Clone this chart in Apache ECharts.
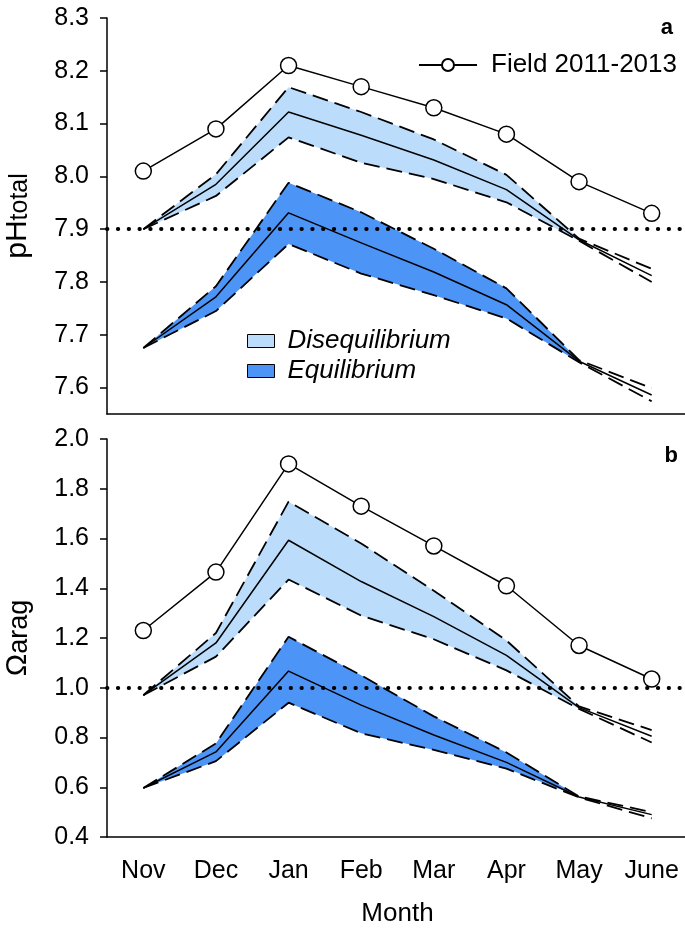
<!DOCTYPE html>
<html>
<head>
<meta charset="utf-8">
<script src="https://cdn.jsdelivr.net/npm/echarts@6/dist/echarts.min.js"></script>
<style>html,body{margin:0;padding:0;background:#fff}#c{width:685px;height:928px}</style>
</head>
<body>
<div id="c"></div>
<script>
const months = ['Nov','Dec','Jan','Feb','Mar','Apr','May','June'];
// number of months (from Nov) over which the model ranges are shaded
const shadedMonths = 7;

// Panel a: pH total
const phField    = [8.01, 8.09, 8.21, 8.17, 8.13, 8.08, 7.99, 7.93];
const phDisUpper = [7.90, 8.004, 8.169, 8.122, 8.070, 8.003, 7.882, 7.825];
const phDisMean  = [7.90, 7.985, 8.122, 8.078, 8.031, 7.975, 7.880, 7.812];
const phDisLower = [7.90, 7.963, 8.074, 8.026, 7.995, 7.951, 7.878, 7.800];
const phEqUpper  = [7.675, 7.792, 7.988, 7.932, 7.863, 7.788, 7.652, 7.599];
const phEqMean   = [7.675, 7.772, 7.931, 7.874, 7.819, 7.757, 7.650, 7.586];
const phEqLower  = [7.675, 7.745, 7.872, 7.816, 7.775, 7.731, 7.648, 7.574];
const phTicks = [7.6, 7.7, 7.8, 7.9, 8.0, 8.1, 8.2, 8.3];

// Panel b: Omega aragonite
const omField    = [1.23, 1.465, 1.90, 1.73, 1.57, 1.41, 1.17, 1.035];
const omDisUpper = [0.97, 1.22, 1.748, 1.58, 1.39, 1.19, 0.925, 0.83];
const omDisMean  = [0.97, 1.18, 1.593, 1.427, 1.286, 1.13, 0.92, 0.805];
const omDisLower = [0.97, 1.125, 1.435, 1.29, 1.195, 1.07, 0.915, 0.78];
const omEqUpper  = [0.597, 0.776, 1.205, 1.05, 0.885, 0.74, 0.563, 0.50];
const omEqMean   = [0.597, 0.742, 1.067, 0.93, 0.81, 0.70, 0.561, 0.49];
const omEqLower  = [0.597, 0.705, 0.94, 0.817, 0.75, 0.675, 0.559, 0.475];

const phRef = 7.9, omRef = 1.0;

const FONT = "'Liberation Sans', Arial, sans-serif";
const LIGHT = '#BBDDFB', DARK = '#4D94F7';

function diff(u, l) { return u.map((v, i) => i < shadedMonths ? +(v - l[i]).toFixed(4) : null); }

function panelSeries(k, field, dU, dM, dL, eU, eM, eL, ref) {
  const base = {type: 'line', xAxisIndex: k, yAxisIndex: k, symbol: 'none', silent: true, animation: false};
  const dash = {color: '#000', width: 1.8, type: [16, 7]};
  const solid = {color: '#000', width: 1.5};
  return [
    Object.assign({}, base, {name: 'disBase' + k, stack: 'dis' + k, data: dL, lineStyle: {opacity: 0}, z: 1}),
    Object.assign({}, base, {name: 'Disequilibrium', stack: 'dis' + k, data: diff(dU, dL), lineStyle: {opacity: 0}, areaStyle: {color: LIGHT, opacity: 1}, itemStyle: {color: LIGHT}, z: 1}),
    Object.assign({}, base, {name: 'eqBase' + k, stack: 'eq' + k, data: eL, lineStyle: {opacity: 0}, z: 1}),
    Object.assign({}, base, {name: 'Equilibrium', stack: 'eq' + k, data: diff(eU, eL), lineStyle: {opacity: 0}, areaStyle: {color: DARK, opacity: 1}, itemStyle: {color: DARK}, z: 1}),
    Object.assign({}, base, {name: 'dU' + k, data: dU, lineStyle: dash, z: 3}),
    Object.assign({}, base, {name: 'dM' + k, data: dM, lineStyle: solid, z: 3}),
    Object.assign({}, base, {name: 'dL' + k, data: dL, lineStyle: dash, z: 3}),
    Object.assign({}, base, {name: 'eU' + k, data: eU, lineStyle: dash, z: 3}),
    Object.assign({}, base, {name: 'eM' + k, data: eM, lineStyle: solid, z: 3}),
    Object.assign({}, base, {name: 'eL' + k, data: eL, lineStyle: dash, z: 3}),
    {
      type: 'line', name: 'Field 2011-2013', xAxisIndex: k, yAxisIndex: k, animation: false,
      data: field, symbol: 'circle', symbolSize: 16,
      lineStyle: {color: '#000', width: 1.5},
      itemStyle: {color: '#fff', borderColor: '#000', borderWidth: 1.5},
      z: 5,
      markLine: {
        silent: true, symbol: 'none', animation: false,
        label: {show: false},
        lineStyle: {color: '#000', width: 3.8, type: [0.5, 10.3], cap: 'round'},
        data: [{yAxis: ref}]
      }
    }
  ];
}

const xAxisCommon = {
  type: 'category', data: months, boundaryGap: true,
  axisLine: {lineStyle: {color: '#000', width: 1.5}},
  axisTick: {alignWithLabel: true, length: 8, lineStyle: {color: '#000', width: 1.5}},
  splitLine: {show: false}
};

const yAxisCommon = {
  type: 'value',
  axisLine: {show: true, lineStyle: {color: '#000', width: 1.5}},
  axisTick: {show: true, length: 7, lineStyle: {color: '#000', width: 1.5}},
  splitLine: {show: false},
  nameLocation: 'middle', nameRotate: 90
};

function nameRich(big, small) {
  return {
    m: {fontSize: big, fontFamily: FONT, color: '#000', verticalAlign: 'bottom', lineHeight: 34},
    s: {fontSize: small, fontFamily: FONT, color: '#000', verticalAlign: 'bottom', lineHeight: 21}
  };
}

const option = {
  backgroundColor: '#fff',
  animation: false,
  textStyle: {fontFamily: FONT},
  grid: [
    {left: 107, top: 18, width: 581, height: 396, outerBoundsMode: 'none', containLabel: false},
    {left: 107, top: 439, width: 581, height: 398, outerBoundsMode: 'none', containLabel: false}
  ],
  xAxis: [
    Object.assign({}, xAxisCommon, {gridIndex: 0, axisLabel: {show: false}}),
    Object.assign({}, xAxisCommon, {gridIndex: 1,
      axisLabel: {color: '#000', fontSize: 25, fontFamily: FONT, margin: 22},
      name: 'Month', nameLocation: 'middle', nameGap: 64,
      nameTextStyle: {color: '#000', fontSize: 26, fontFamily: FONT}})
  ],
  yAxis: [
    Object.assign({}, yAxisCommon, {gridIndex: 0, min: 7.55, max: 8.3,
      axisTick: Object.assign({}, yAxisCommon.axisTick, {customValues: phTicks}),
      axisLabel: {customValues: phTicks, color: '#000', fontSize: 25, fontFamily: FONT, margin: 18,
        formatter: v => v.toFixed(1)},
      name: '{m|pH}{s|total}', nameGap: 74,
      nameTextStyle: {color: '#000', fontFamily: FONT, rich: nameRich(30, 25)}
    }),
    Object.assign({}, yAxisCommon, {gridIndex: 1, min: 0.4, max: 2.0, interval: 0.2,
      axisLabel: {color: '#000', fontSize: 25, fontFamily: FONT, margin: 18,
        formatter: v => v.toFixed(1)},
      name: '{m|Ω}{s|arag}', nameGap: 74,
      nameTextStyle: {color: '#000', fontFamily: FONT, rich: nameRich(30, 27)}
    })
  ],
  title: [
    {text: 'a', right: 12, top: 17, padding: 0, textStyle: {fontSize: 22, fontWeight: 'bold', color: '#000', fontFamily: FONT}},
    {text: 'b', right: 7, top: 445, padding: 0, textStyle: {fontSize: 22, fontWeight: 'bold', color: '#000', fontFamily: FONT}}
  ],
  legend: [
    {
      data: ['Field 2011-2013'], left: 418, top: 52, padding: 0,
      itemWidth: 58, itemHeight: 15, selectedMode: false,
      textStyle: {fontSize: 26, color: '#000', fontFamily: FONT, padding: [0, 0, 0, 9]}
    },
    {
      data: [
        {name: 'Disequilibrium', icon: 'rect', itemStyle: {color: LIGHT, borderColor: '#000', borderWidth: 1}},
        {name: 'Equilibrium', icon: 'rect', itemStyle: {color: DARK, borderColor: '#000', borderWidth: 1}}
      ],
      orient: 'vertical', left: 247, top: 328, padding: 0, itemGap: 4,
      itemWidth: 27, itemHeight: 13, selectedMode: false,
      textStyle: {fontSize: 26, fontStyle: 'italic', color: '#000', fontFamily: FONT, padding: [0, 0, 0, 8]}
    }
  ],
  series: [].concat(
    panelSeries(0, phField, phDisUpper, phDisMean, phDisLower, phEqUpper, phEqMean, phEqLower, phRef),
    panelSeries(1, omField, omDisUpper, omDisMean, omDisLower, omEqUpper, omEqMean, omEqLower, omRef)
  )
};

const chart = echarts.init(document.getElementById('c'), null, {renderer: 'canvas'});
chart.setOption(option);
</script>
</body>
</html>
